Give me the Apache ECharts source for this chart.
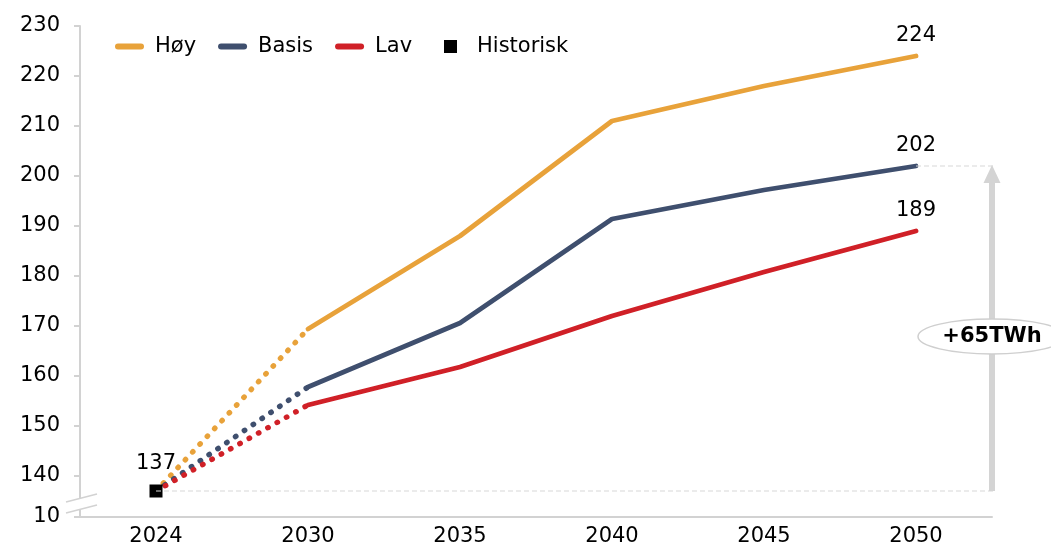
<!DOCTYPE html>
<html>
<head>
<meta charset="utf-8">
<script src="https://cdn.jsdelivr.net/npm/echarts@6/dist/echarts.min.js"></script>
<style>html,body{margin:0;padding:0;background:#fff}#c{width:1051px;height:547px}</style>
</head>
<body>
<div id="c"></div>
<script>
const years = ['2024', '2030', '2035', '2040', '2045', '2050'];
const historisk = 137;
const hoy = [137, 169.4, 188, 211, 218, 224];
const basis = [137, 157.8, 170.6, 191.4, 197.2, 202];
const lav = [137, 154.2, 161.8, 172, 180.8, 189];
const yTicks = [131.8, 140, 150, 160, 170, 180, 190, 200, 210, 220, 230];
const breakLabel = '10';
const deltaText = '+65TWh';

const C_HOY = '#E8A23A', C_BAS = '#3F4F6E', C_LAV = '#D02027';
const FONT = 'DejaVu Sans';
const FS = 21;
const TXT = '#000';
const GRAY = '#d2d2d2';

function dotted(arr) { return arr.map((v, i) => i <= 1 ? v : '-'); }
function solid(arr) { return arr.map((v, i) => i >= 1 ? v : '-'); }

function lineSeries(name, color, arr) {
  return [
    { name: name, type: 'line', data: solid(arr), symbol: 'none', color: color,
      lineStyle: { color: color, width: 4.8, cap: 'round', join: 'round' }, z: 3, silent: true },
    { name: name + '_dot', type: 'line', data: dotted(arr), symbol: 'none', color: color,
      lineStyle: { color: color, width: 5.4, type: [0.5, 10.2], cap: 'round' }, z: 3, silent: true }
  ];
}

const chart = echarts.init(document.getElementById('c'));
const option = {
  animation: false,
  textStyle: { fontFamily: FONT },
  grid: { left: 80, right: 59, top: 26, bottom: 30, containLabel: false },
  legend: [
    { data: ['Høy', 'Basis', 'Lav'], left: 115, top: 36, padding: 0, itemGap: 22,
      itemWidth: 29, itemHeight: 6,
      icon: 'path://M3,0 H26 A3,3 0 0 1 26,6 H3 A3,3 0 0 1 3,0 Z',
      textStyle: { fontFamily: FONT, fontSize: FS, color: TXT, padding: [0, 0, 0, 6] } },
    { data: ['Historisk'], left: 444, top: 36, padding: 0,
      itemWidth: 13, itemHeight: 13, icon: 'rect',
      textStyle: { fontFamily: FONT, fontSize: FS, color: TXT, padding: [0, 0, 0, 15] } }
  ],
  xAxis: {
    type: 'category', data: years, boundaryGap: true,
    axisLine: { lineStyle: { color: GRAY, width: 2 } },
    axisTick: { show: false },
    axisLabel: { fontFamily: FONT, fontSize: FS, color: TXT, margin: 9 },
    splitLine: { show: false }
  },
  yAxis: {
    type: 'value', min: yTicks[0], max: yTicks[yTicks.length - 1],
    axisLine: { show: true, lineStyle: { color: GRAY, width: 2 } },
    axisTick: { show: true, length: 6, customValues: yTicks, lineStyle: { color: GRAY, width: 2 } },
    axisLabel: { fontFamily: FONT, fontSize: FS, color: TXT, margin: 20, customValues: yTicks,
      formatter: v => v < 135 ? breakLabel : String(Math.round(v)) },
    splitLine: { show: false }
  },
  series: [
    ...lineSeries('Høy', C_HOY, hoy),
    ...lineSeries('Basis', C_BAS, basis),
    ...lineSeries('Lav', C_LAV, lav),
    { name: 'Historisk', type: 'scatter', data: [[years[0], historisk]], symbol: 'rect', symbolSize: 13,
      itemStyle: { color: '#000', opacity: 1 }, z: 5,
      label: { show: true, position: 'top', distance: 10, fontFamily: FONT, fontSize: FS, color: TXT,
        formatter: p => String(p.value[1]) } },
    { name: 'endLabels', type: 'scatter', symbolSize: 0, silent: true, z: 6,
      itemStyle: { color: '#000', opacity: 1 },
      data: [[years[5], hoy[5]], [years[5], basis[5]], [years[5], lav[5]]],
      label: { show: true, position: 'top', distance: 10, fontFamily: FONT, fontSize: FS, color: TXT, opacity: 1,
        formatter: p => String(Math.round(p.value[1])) } }
  ]
};
chart.setOption(option);

function drawDecor() {
  const px = (i, v) => chart.convertToPixel({ gridIndex: 0 }, [i, v]);
  const p0 = px(0, historisk);
  const p5 = px(5, basis[5]);
  const p4 = px(4, basis[4]);
  const step = p5[0] - p4[0];
  const xr = p5[0] + step / 2;
  const yTop = p5[1];
  const yBot = p0[1];
  const yAxisX = px(0, 140)[0] - step / 2;
  const yMinPx = px(0, yTicks[0])[1];
  const b1 = yMinPx - 15, b2 = yMinPx - 4;
  const midY = (yTop + yBot) / 2 + 8;
  chart.setOption({
    graphic: [
      { type: 'polygon', z: 100, shape: { points: [[yAxisX - 14, b1], [yAxisX + 17, b1 - 8], [yAxisX + 17, b2 - 8], [yAxisX - 14, b2]] },
        style: { fill: '#fff' } },
      { type: 'line', z: 101, shape: { x1: yAxisX - 14, y1: b1, x2: yAxisX + 17, y2: b1 - 8 }, style: { stroke: GRAY, lineWidth: 1.5 } },
      { type: 'line', z: 101, shape: { x1: yAxisX - 14, y1: b2, x2: yAxisX + 17, y2: b2 - 8 }, style: { stroke: GRAY, lineWidth: 1.5 } },
      { type: 'line', z: 50, shape: { x1: p0[0], y1: yBot, x2: xr + 3, y2: yBot }, style: { stroke: '#d8d8d8', lineWidth: 1.2, lineDash: [5, 3] } },
      { type: 'line', z: 50, shape: { x1: p5[0], y1: yTop, x2: xr + 3, y2: yTop }, style: { stroke: '#d8d8d8', lineWidth: 1.2, lineDash: [5, 3] } },
      { type: 'rect', z: 60, shape: { x: xr - 3, y: yTop + 15, width: 6, height: yBot - yTop - 15 }, style: { fill: '#d4d4d4' } },
      { type: 'polygon', z: 60, shape: { points: [[xr, yTop - 1], [xr - 8.5, yTop + 17], [xr + 8.5, yTop + 17]] }, style: { fill: '#d4d4d4' } },
      { type: 'ellipse', z: 70, shape: { cx: xr, cy: midY, rx: 74, ry: 17.5 }, style: { fill: '#fff', stroke: '#cfcfcf', lineWidth: 1.5 } },
      { type: 'text', z: 71, x: xr, y: midY, style: { text: deltaText, font: 'bold 21px "DejaVu Sans"', fill: '#000', align: 'center', verticalAlign: 'middle' } }
    ]
  });
}
drawDecor();
</script>
</body>
</html>
